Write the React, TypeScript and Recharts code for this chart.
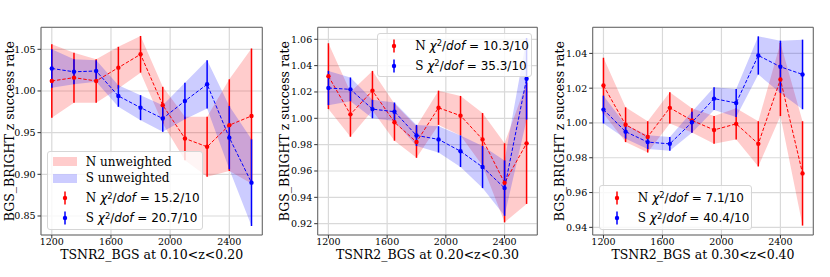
import React from 'react';
import {
    ComposedChart,
    Area,
    Line,
    XAxis,
    YAxis,
    CartesianGrid,
    ErrorBar,
    ReferenceArea,
    Label,
} from 'recharts';

/* ── Data ────────────────────────────────────────────────────────────────── */
const tsnr = [1200, 1350, 1500, 1650, 1800, 1950, 2100, 2250, 2400, 2550];
const xTicks = [1200, 1600, 2000, 2400];

// 0.10 < z < 0.20
const n1Rate = [1.012, 1.016, 1.012, 1.028, 1.044, 0.983, 0.943, 0.933, 0.959, 0.970];
const n1Err  = [0.044, 0.030, 0.026, 0.025, 0.022, 0.022, 0.026, 0.036, 0.055, 0.081];
const s1Rate = [1.027, 1.023, 1.024, 0.994, 0.980, 0.967, 0.988, 1.008, 0.944, 0.890];
const s1Err  = [0.023, 0.015, 0.013, 0.013, 0.015, 0.016, 0.022, 0.029, 0.038, 0.052];
const y1Ticks = [0.85, 0.90, 0.95, 1.00, 1.05];

// 0.20 < z < 0.30
const n2Rate = [1.032, 1.003, 1.021, 0.997, 0.982, 1.008, 1.002, 0.984, 0.951, 0.981];
const n2Err  = [0.025, 0.017, 0.015, 0.014, 0.012, 0.013, 0.015, 0.020, 0.030, 0.046];
const s2Rate = [1.023, 1.022, 1.007, 1.005, 0.987, 0.984, 0.975, 0.963, 0.947, 1.030];
const s2Err  = [0.013, 0.009, 0.007, 0.007, 0.008, 0.010, 0.012, 0.016, 0.021, 0.031];
const y2Ticks = [0.92, 0.94, 0.96, 0.98, 1.00, 1.02, 1.04, 1.06];

// 0.30 < z < 0.40
const n3Rate = [1.0215, 0.999, 0.992, 1.0087, 1.0015, 0.996, 0.9995, 0.988, 1.025, 0.971];
const n3Err  = [0.016, 0.010, 0.009, 0.009, 0.007, 0.008, 0.009, 0.013, 0.021, 0.030];
const s3Rate = [1.0077, 0.995, 0.989, 0.988, 1.0004, 1.014, 1.0115, 1.0388, 1.0323, 1.0279];
const s3Err  = [0.008, 0.004, 0.004, 0.004, 0.006, 0.0065, 0.008, 0.011, 0.015, 0.020];
const y3Ticks = [0.94, 0.96, 0.98, 1.00, 1.02, 1.04];

const zRanges = ['0.10<z<0.20', '0.20<z<0.30', '0.30<z<0.40'];
const nChi = ['15.2/10', '10.3/10', '7.1/10'];
const sChi = ['20.7/10', '35.3/10', '40.4/10'];

const RED = '#ff0000';
const BLUE = '#0000ff';
const SERIF = '"DejaVu Serif", serif';
const SANS = '"DejaVu Sans", sans-serif';
const X_DOMAIN: [number, number] = [1127, 2623];

const buildRows = (nRate: number[], nErr: number[], sRate: number[], sErr: number[]) =>
    tsnr.map((x, i) => ({
        x,
        n: nRate[i],
        nErr: nErr[i],
        nBand: [nRate[i] - nErr[i], nRate[i] + nErr[i]],
        s: sRate[i],
        sErr: sErr[i],
        sBand: [sRate[i] - sErr[i], sRate[i] + sErr[i]],
    }));

/* ── Legend ──────────────────────────────────────────────────────────────── */
const ChiText = ({ tag, value }: { tag: string; value: string }) => (
    <span>
        <span style={{ fontFamily: SERIF }}>{tag} </span>
        <span style={{ fontFamily: SANS }}>
            <i>χ</i>
            <span style={{ fontSize: '0.7em', position: 'relative', top: '-0.45em' }}>2</span>
            /<i>dof</i> = {value}
        </span>
    </span>
);

type LegendItem = { kind: 'patch' | 'err'; color: string; label: React.ReactNode; y: number };

const LegendBox = ({ left, top, width, height, items }:
    { left: number; top: number; width: number; height: number; items: LegendItem[] }) => (
    <div style={{
        position: 'absolute', left, top, width, height, boxSizing: 'border-box',
        background: 'rgba(255,255,255,0.8)', border: '1px solid #d6d6d6', borderRadius: 3,
    }}>
        {items.map((it, i) => (
            <div key={i} style={{ position: 'absolute', left: 0, top: it.y, width: '100%', height: 0 }}>
                {it.kind === 'patch' ? (
                    <div style={{
                        position: 'absolute', left: 4.5, top: -4.5, width: 24, height: 9,
                        background: it.color === RED ? 'rgba(255,0,0,0.2)' : 'rgba(0,0,255,0.2)',
                    }} />
                ) : (
                    <svg width={10} height={16} style={{ position: 'absolute', left: 11.5, top: -8 }}>
                        <line x1={5} x2={5} y1={1.5} y2={14.5} stroke={it.color} strokeWidth={1.5} />
                        <circle cx={5} cy={8} r={2.2} fill={it.color} />
                    </svg>
                )}
                <div style={{
                    position: 'absolute', left: 37.5, top: -8, height: 16, lineHeight: '16px',
                    fontSize: 12, color: '#000', whiteSpace: 'nowrap', fontFamily: SERIF,
                }}>
                    {it.label}
                </div>
            </div>
        ))}
    </div>
);

/* ── Panel ───────────────────────────────────────────────────────────────── */
type PanelProps = {
    left: number; width: number; yWidth: number; marginRight: number;
    yDomain: [number, number]; yTicks: number[]; yLabelOffset: number;
    rows: any[]; zRange: string;
};

const TOP = 27.3;
const BOTTOM = 235;
const HEIGHT = 277;

const Panel = ({ left, width, yWidth, marginRight, yDomain, yTicks, yLabelOffset, rows, zRange }: PanelProps) => {
    const plotCx = (yWidth + width - marginRight) / 2;
    const plotCy = (TOP + BOTTOM) / 2;
    const yLabX = yWidth - yLabelOffset;
    const tickStyle = { fill: '#000', fontSize: 9.5, fontFamily: SERIF };
    return (
        <div style={{ position: 'absolute', left, top: 0 }}>
            <ComposedChart
                width={width}
                height={HEIGHT}
                data={rows}
                margin={{ top: TOP, right: marginRight, left: 0, bottom: 0 }}
            >
                <CartesianGrid stroke="#d9d9d9" strokeWidth={1.2} />
                <XAxis
                    type="number"
                    dataKey="x"
                    domain={X_DOMAIN}
                    ticks={xTicks}
                    allowDataOverflow
                    height={HEIGHT - BOTTOM}
                    tick={tickStyle}
                    tickSize={3.5}
                    tickMargin={0}
                    tickLine={{ stroke: '#333' }}
                    axisLine={false}
                >
                    <Label content={() => (
                        <text x={plotCx} y={254} textAnchor="middle" dominantBaseline="central"
                              fontFamily={SERIF} fontSize={12.5} fill="#000">
                            {`TSNR2_BGS at ${zRange}`}
                        </text>
                    )} />
                </XAxis>
                <YAxis
                    type="number"
                    domain={yDomain}
                    ticks={yTicks}
                    allowDataOverflow
                    width={yWidth}
                    tick={tickStyle}
                    tickSize={3.5}
                    tickMargin={2}
                    tickLine={{ stroke: '#333' }}
                    axisLine={false}
                    tickFormatter={(v: number) => v.toFixed(2)}
                >
                    <Label content={() => (
                        <text x={yLabX} y={plotCy} textAnchor="middle" dominantBaseline="central"
                              transform={`rotate(-90 ${yLabX} ${plotCy})`}
                              fontFamily={SERIF} fontSize={12.5} fill="#000">
                            BGS_BRIGHT z success rate
                        </text>
                    )} />
                </YAxis>

                {/* unweighted bands */}
                <Area dataKey="nBand" stroke="none" fill={RED} fillOpacity={0.2} isAnimationActive={false} activeDot={false} />
                <Area dataKey="sBand" stroke="none" fill={BLUE} fillOpacity={0.2} isAnimationActive={false} activeDot={false} />

                {/* weighted points with errors */}
                <Line dataKey="n" stroke={RED} strokeWidth={1} strokeDasharray="3.5 1.8"
                      dot={{ r: 2.2, fill: RED, stroke: 'none' }} activeDot={false} isAnimationActive={false}>
                    <ErrorBar dataKey="nErr" width={0} stroke={RED} strokeWidth={1.5} direction="y" />
                </Line>
                <Line dataKey="s" stroke={BLUE} strokeWidth={1} strokeDasharray="3.5 1.8"
                      dot={{ r: 2.2, fill: BLUE, stroke: 'none' }} activeDot={false} isAnimationActive={false}>
                    <ErrorBar dataKey="sErr" width={0} stroke={BLUE} strokeWidth={1.5} direction="y" />
                </Line>

                <ReferenceArea x1={X_DOMAIN[0]} x2={X_DOMAIN[1]} y1={yDomain[0]} y2={yDomain[1]}
                               fill="none" stroke="#666" strokeWidth={1} />
            </ComposedChart>
        </div>
    );
};

/* ── App ─────────────────────────────────────────────────────────────────── */
export default function App() {
    const rows1 = buildRows(n1Rate, n1Err, s1Rate, s1Err);
    const rows2 = buildRows(n2Rate, n2Err, s2Rate, s2Err);
    const rows3 = buildRows(n3Rate, n3Err, s3Rate, s3Err);

    return (
        <div style={{ position: 'absolute', left: 0, top: 0, width: 830, height: 277, background: '#fff', overflow: 'hidden' }}>
            <Panel left={0} width={280} yWidth={41} marginRight={17.7}
                   yDomain={[0.8272, 1.0764]} yTicks={y1Ticks} yLabelOffset={31.7}
                   rows={rows1} zRange={zRanges[0]} />
            <Panel left={277} width={280} yWidth={40.7} marginRight={19.7}
                   yDomain={[0.9114, 1.0691]} yTicks={y2Ticks} yLabelOffset={33.2}
                   rows={rows2} zRange={zRanges[1]} />
            <Panel left={552} width={278} yWidth={40.7} marginRight={16.7}
                   yDomain={[0.9356, 1.055]} yTicks={y3Ticks} yLabelOffset={33.4}
                   rows={rows3} zRange={zRanges[2]} />

            <LegendBox left={47.3} top={150.7} width={155.4} height={79.3} items={[
                { kind: 'patch', color: RED, label: 'N unweighted', y: 10 },
                { kind: 'patch', color: BLUE, label: 'S unweighted', y: 26.6 },
                { kind: 'err', color: RED, label: <ChiText tag="N" value={nChi[0]} />, y: 46.6 },
                { kind: 'err', color: BLUE, label: <ChiText tag="S" value={sChi[0]} />, y: 66.6 },
            ]} />
            <LegendBox left={376.7} top={33.3} width={155} height={43.4} items={[
                { kind: 'err', color: RED, label: <ChiText tag="N" value={nChi[1]} />, y: 11.7 },
                { kind: 'err', color: BLUE, label: <ChiText tag="S" value={sChi[1]} />, y: 31.7 },
            ]} />
            <LegendBox left={599.3} top={185} width={152.4} height={45} items={[
                { kind: 'err', color: RED, label: <ChiText tag="N" value={nChi[2]} />, y: 11.7 },
                { kind: 'err', color: BLUE, label: <ChiText tag="S" value={sChi[2]} />, y: 32.3 },
            ]} />
        </div>
    );
}
